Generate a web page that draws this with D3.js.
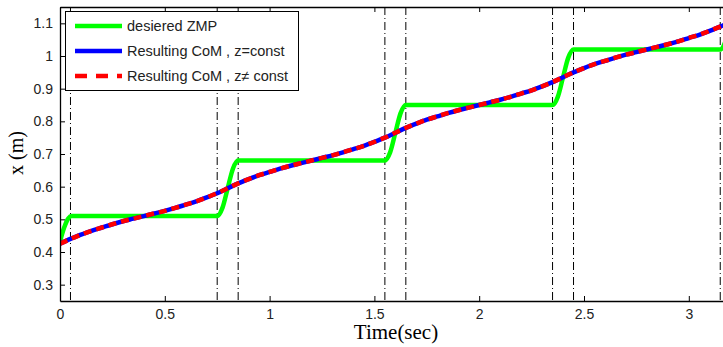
<!DOCTYPE html>
<html>
<head>
<meta charset="utf-8">
<script src="https://cdn.jsdelivr.net/npm/d3@7"></script>
<style>
  body { margin: 0; background: #fff; }
  svg { display: block; }
</style>
</head>
<body>
<svg id="chart" width="723" height="347"></svg>
<script>
// time samples of the CoM trajectories (sec)
var comT = [0, 0.05, 0.1, 0.15, 0.2, 0.25, 0.3, 0.35, 0.4, 0.45, 0.5, 0.55, 0.6, 0.65, 0.7, 0.75, 0.8,
    0.85, 0.9, 0.95, 1, 1.05, 1.1, 1.15, 1.2, 1.25, 1.3, 1.35, 1.4, 1.45, 1.5, 1.55, 1.6,
    1.65, 1.7, 1.75, 1.8, 1.85, 1.9, 1.95, 2, 2.05, 2.1, 2.15, 2.2, 2.25, 2.3, 2.35, 2.4,
    2.45, 2.5, 2.55, 2.6, 2.65, 2.7, 2.75, 2.8, 2.85, 2.9, 2.95, 3, 3.05, 3.1, 3.15, 3.2];
// resulting CoM, z = const (m)
var comConst = [0.425, 0.440, 0.453, 0.465, 0.475, 0.485, 0.494, 0.502, 0.510, 0.518, 0.526, 0.535, 0.545, 0.555, 0.567, 0.580, 0.595,
    0.610, 0.623, 0.635, 0.645, 0.655, 0.664, 0.672, 0.680, 0.688, 0.696, 0.705, 0.715, 0.725, 0.737, 0.750, 0.765,
    0.780, 0.793, 0.805, 0.815, 0.825, 0.834, 0.842, 0.850, 0.858, 0.866, 0.875, 0.885, 0.895, 0.907, 0.920, 0.935,
    0.950, 0.963, 0.975, 0.985, 0.995, 1.004, 1.012, 1.020, 1.028, 1.036, 1.045, 1.055, 1.065, 1.077, 1.090, 1.105];
// resulting CoM, z != const (m) -- lies on top of the other one
var comVar = [0.425, 0.440, 0.453, 0.465, 0.475, 0.485, 0.494, 0.502, 0.510, 0.518, 0.526, 0.535, 0.545, 0.555, 0.567, 0.580, 0.595,
    0.610, 0.623, 0.635, 0.645, 0.655, 0.664, 0.672, 0.680, 0.688, 0.696, 0.705, 0.715, 0.725, 0.737, 0.750, 0.765,
    0.780, 0.793, 0.805, 0.815, 0.825, 0.834, 0.842, 0.850, 0.858, 0.866, 0.875, 0.885, 0.895, 0.907, 0.920, 0.935,
    0.950, 0.963, 0.975, 0.985, 0.995, 1.004, 1.012, 1.020, 1.028, 1.036, 1.045, 1.055, 1.065, 1.077, 1.090, 1.105];

// desired ZMP
var zmpT = [0, 0.02, 0.04, 0.055, 0.75, 0.775, 0.8, 0.825, 0.85, 1.55, 1.575, 1.6, 1.625, 1.65,
    2.35, 2.375, 2.4, 2.425, 2.45, 3.15, 3.175, 3.2];
var zmpX = [0.432, 0.475, 0.503, 0.51, 0.51, 0.535, 0.595, 0.655, 0.68, 0.68, 0.705, 0.765, 0.825, 0.85,
    0.85, 0.875, 0.935, 0.995, 1.02, 1.02, 1.045, 1.105];

// support phase switching instants
var phaseT = [0.05, 0.75, 0.85, 1.55, 1.65, 2.35, 2.45, 3.15];

var xTicks = [0, 0.5, 1, 1.5, 2, 2.5, 3];
var yTicks = [0.3, 0.4, 0.5, 0.6, 0.7, 0.8, 0.9, 1, 1.1];

var legendNames = ["desiered ZMP", "Resulting CoM , z=const", "Resulting CoM , z\u2260 const"];

var svg = d3.select("#chart");
var plotLeft = 60, plotTop = 7, plotBottom = 301, plotRight = 60 + 3.2 * 209.6;

var x = d3.scaleLinear().domain([0, 3.2]).range([plotLeft, plotRight]);
var y = d3.scaleLinear().domain([0.25, 1.15]).range([plotBottom, plotTop]);

var tickFont = "'Liberation Sans', Arial, sans-serif";

svg.append("defs").append("clipPath").attr("id", "plotclip")
    .append("rect").attr("x", plotLeft).attr("y", plotTop)
    .attr("width", plotRight - plotLeft).attr("height", plotBottom - plotTop);

// switching lines
svg.append("g").selectAll("line").data(phaseT).enter().append("line")
    .attr("x1", function(d) { return x(d); }).attr("x2", function(d) { return x(d); })
    .attr("y1", plotTop).attr("y2", plotBottom)
    .attr("stroke", "#000").attr("stroke-width", 1)
    .attr("stroke-dasharray", "8,3,1,3");

var plot = svg.append("g").attr("clip-path", "url(#plotclip)");

var zmpLine = d3.line()
    .x(function(d, i) { return x(zmpT[i]); })
    .y(function(d) { return y(d); })
    .curve(d3.curveMonotoneX);

var comLine = d3.line()
    .x(function(d, i) { return x(comT[i]); })
    .y(function(d) { return y(d); })
    .curve(d3.curveMonotoneX);

plot.append("path").attr("d", zmpLine(zmpX))
    .attr("fill", "none").attr("stroke", "#00ff00").attr("stroke-width", 4.5);
plot.append("path").attr("d", comLine(comConst))
    .attr("fill", "none").attr("stroke", "#0000ff").attr("stroke-width", 4.5);
plot.append("path").attr("d", comLine(comVar))
    .attr("fill", "none").attr("stroke", "#ff0000").attr("stroke-width", 4.5)
    .attr("stroke-dasharray", "8,5");

// axes (matlab style: ticks inside, box on top)
var xAxis = svg.append("g").attr("transform", "translate(0," + plotBottom + ")")
    .call(d3.axisBottom(x).tickValues(xTicks).tickSizeInner(-5).tickSizeOuter(0).tickPadding(8)
        .tickFormat(function(d) { return d; }));
var xTop = svg.append("g").attr("transform", "translate(0," + plotTop + ")")
    .call(d3.axisTop(x).tickValues(xTicks).tickSizeInner(-5).tickSizeOuter(0).tickFormat(""));
var yAxis = svg.append("g").attr("transform", "translate(" + plotLeft + ",0)")
    .call(d3.axisLeft(y).tickValues(yTicks).tickSizeInner(-5).tickSizeOuter(0).tickPadding(7)
        .tickFormat(function(d) { return d; }));

[xAxis, xTop, yAxis].forEach(function(g) {
    g.select(".domain").attr("stroke", "#000").attr("stroke-width", 1.3);
    g.selectAll(".tick line").attr("stroke", "#000");
    g.selectAll("text").attr("fill", "#222").style("font-family", tickFont).style("font-size", "14px");
});

// axis labels
svg.append("text").attr("x", 396).attr("y", 339).attr("text-anchor", "middle")
    .style("font-family", "'Liberation Serif', 'Times New Roman', serif").style("font-size", "21px")
    .text("Time(sec)");
svg.append("text").attr("transform", "translate(23,153) rotate(-90)").attr("text-anchor", "middle")
    .style("font-family", "'Liberation Serif', 'Times New Roman', serif").style("font-size", "20px")
    .text("x (m)");

// legend
var legend = svg.append("g");
legend.append("rect").attr("x", 65.5).attr("y", 11.5).attr("width", 233).attr("height", 79)
    .attr("fill", "#fff").attr("stroke", "#000").attr("stroke-width", 1);

var legendStyles = [
    { color: "#00ff00", dash: null },
    { color: "#0000ff", dash: null },
    { color: "#ff0000", dash: "12,9" }
];
legendNames.forEach(function(name, i) {
    var ly = 26 + i * 25;
    legend.append("line").attr("x1", 75).attr("x2", 122).attr("y1", ly).attr("y2", ly)
        .attr("stroke", legendStyles[i].color).attr("stroke-width", 4.5)
        .attr("stroke-dasharray", legendStyles[i].dash);
    legend.append("text").attr("x", 127).attr("y", ly + 5)
        .style("font-family", tickFont).style("font-size", "14.5px").attr("fill", "#222")
        .text(name);
});
</script>
</body>
</html>
